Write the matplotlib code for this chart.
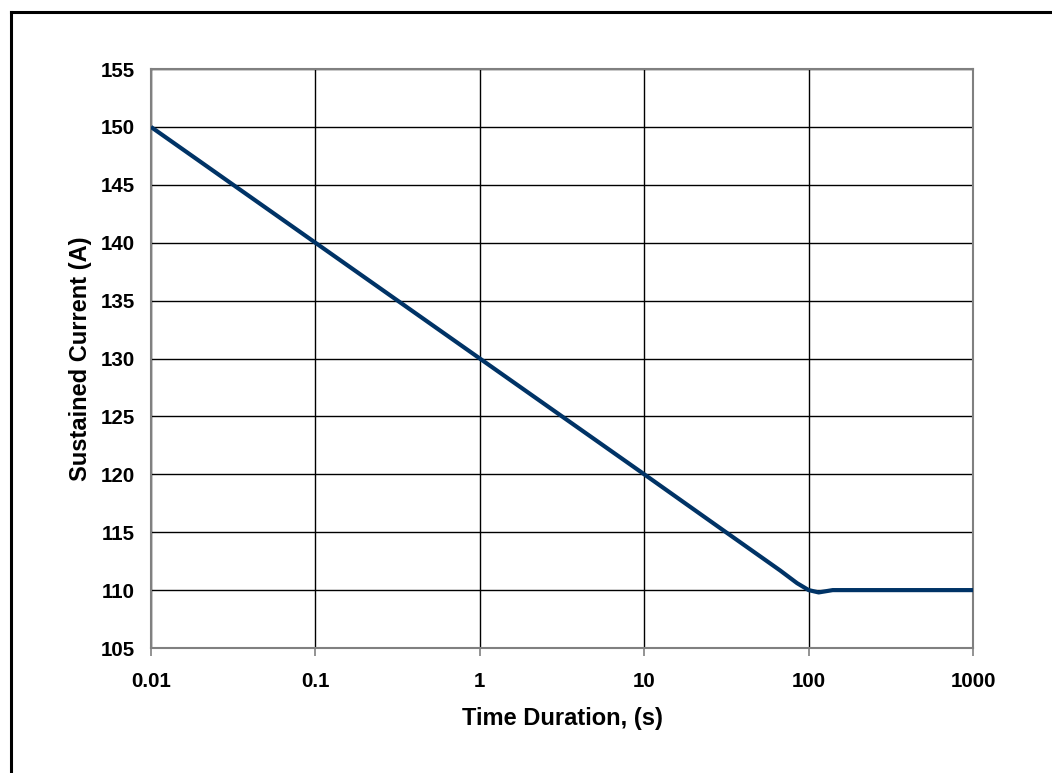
import matplotlib.pyplot as plt
from matplotlib.lines import Line2D

# Dados
tempo_s = [0.01, 0.1, 1, 10, 30, 67, 85, 100, 115, 140, 300, 1000]
corrente_a = [150, 140, 130, 120, 115.2, 111.7, 110.6, 110.0, 109.8, 110.0, 110.0, 110.0]

x_ticks = [0.01, 0.1, 1, 10, 100, 1000]
x_tick_labels = ['0.01', '0.1', '1', '10', '100', '1000']
y_ticks = list(range(105, 156, 5))

plt.rcParams['font.family'] = ['Liberation Sans', 'DejaVu Sans']

fig = plt.figure(figsize=(10.52, 7.73), dpi=100)
ax = fig.add_axes([0.1435, 0.1617, 0.925 - 0.1435, 0.9107 - 0.1617])

ax.plot(tempo_s, corrente_a, color='#003366', linewidth=3, solid_capstyle='butt', zorder=3)

ax.set_xscale('log')
ax.set_xlim(0.01, 1000)
ax.set_ylim(105, 155)
ax.set_xticks(x_ticks)
ax.set_xticklabels(x_tick_labels)
ax.minorticks_off()
ax.set_yticks(y_ticks)

ax.grid(True, color='black', linewidth=1)
for s in ax.spines.values():
    s.set_color('#808080')
    s.set_linewidth(1.5)

ax.tick_params(axis='x', direction='out', length=6, width=1.2, color='#808080',
               pad=11, labelsize=14.8)
ax.tick_params(axis='y', length=0, pad=11.5, labelsize=14.8)
for lab in ax.get_xticklabels() + ax.get_yticklabels():
    lab.set_fontweight('bold')

ax.set_xlabel('Time Duration, (s)', fontsize=17, fontweight='bold', labelpad=12)
ax.set_ylabel('Sustained Current (A)', fontsize=17, fontweight='bold', labelpad=6)

# Moldura externa (topo e esquerda)
fig.add_artist(Line2D([10.5 / 1052, 1.0], [1 - 12 / 773, 1 - 12 / 773],
                      color='black', linewidth=2.2, transform=fig.transFigure))
fig.add_artist(Line2D([10.5 / 1052, 10.5 / 1052], [0.0, 1 - 12 / 773],
                      color='black', linewidth=2.2, transform=fig.transFigure))

fig.savefig('out.png', dpi=100)
